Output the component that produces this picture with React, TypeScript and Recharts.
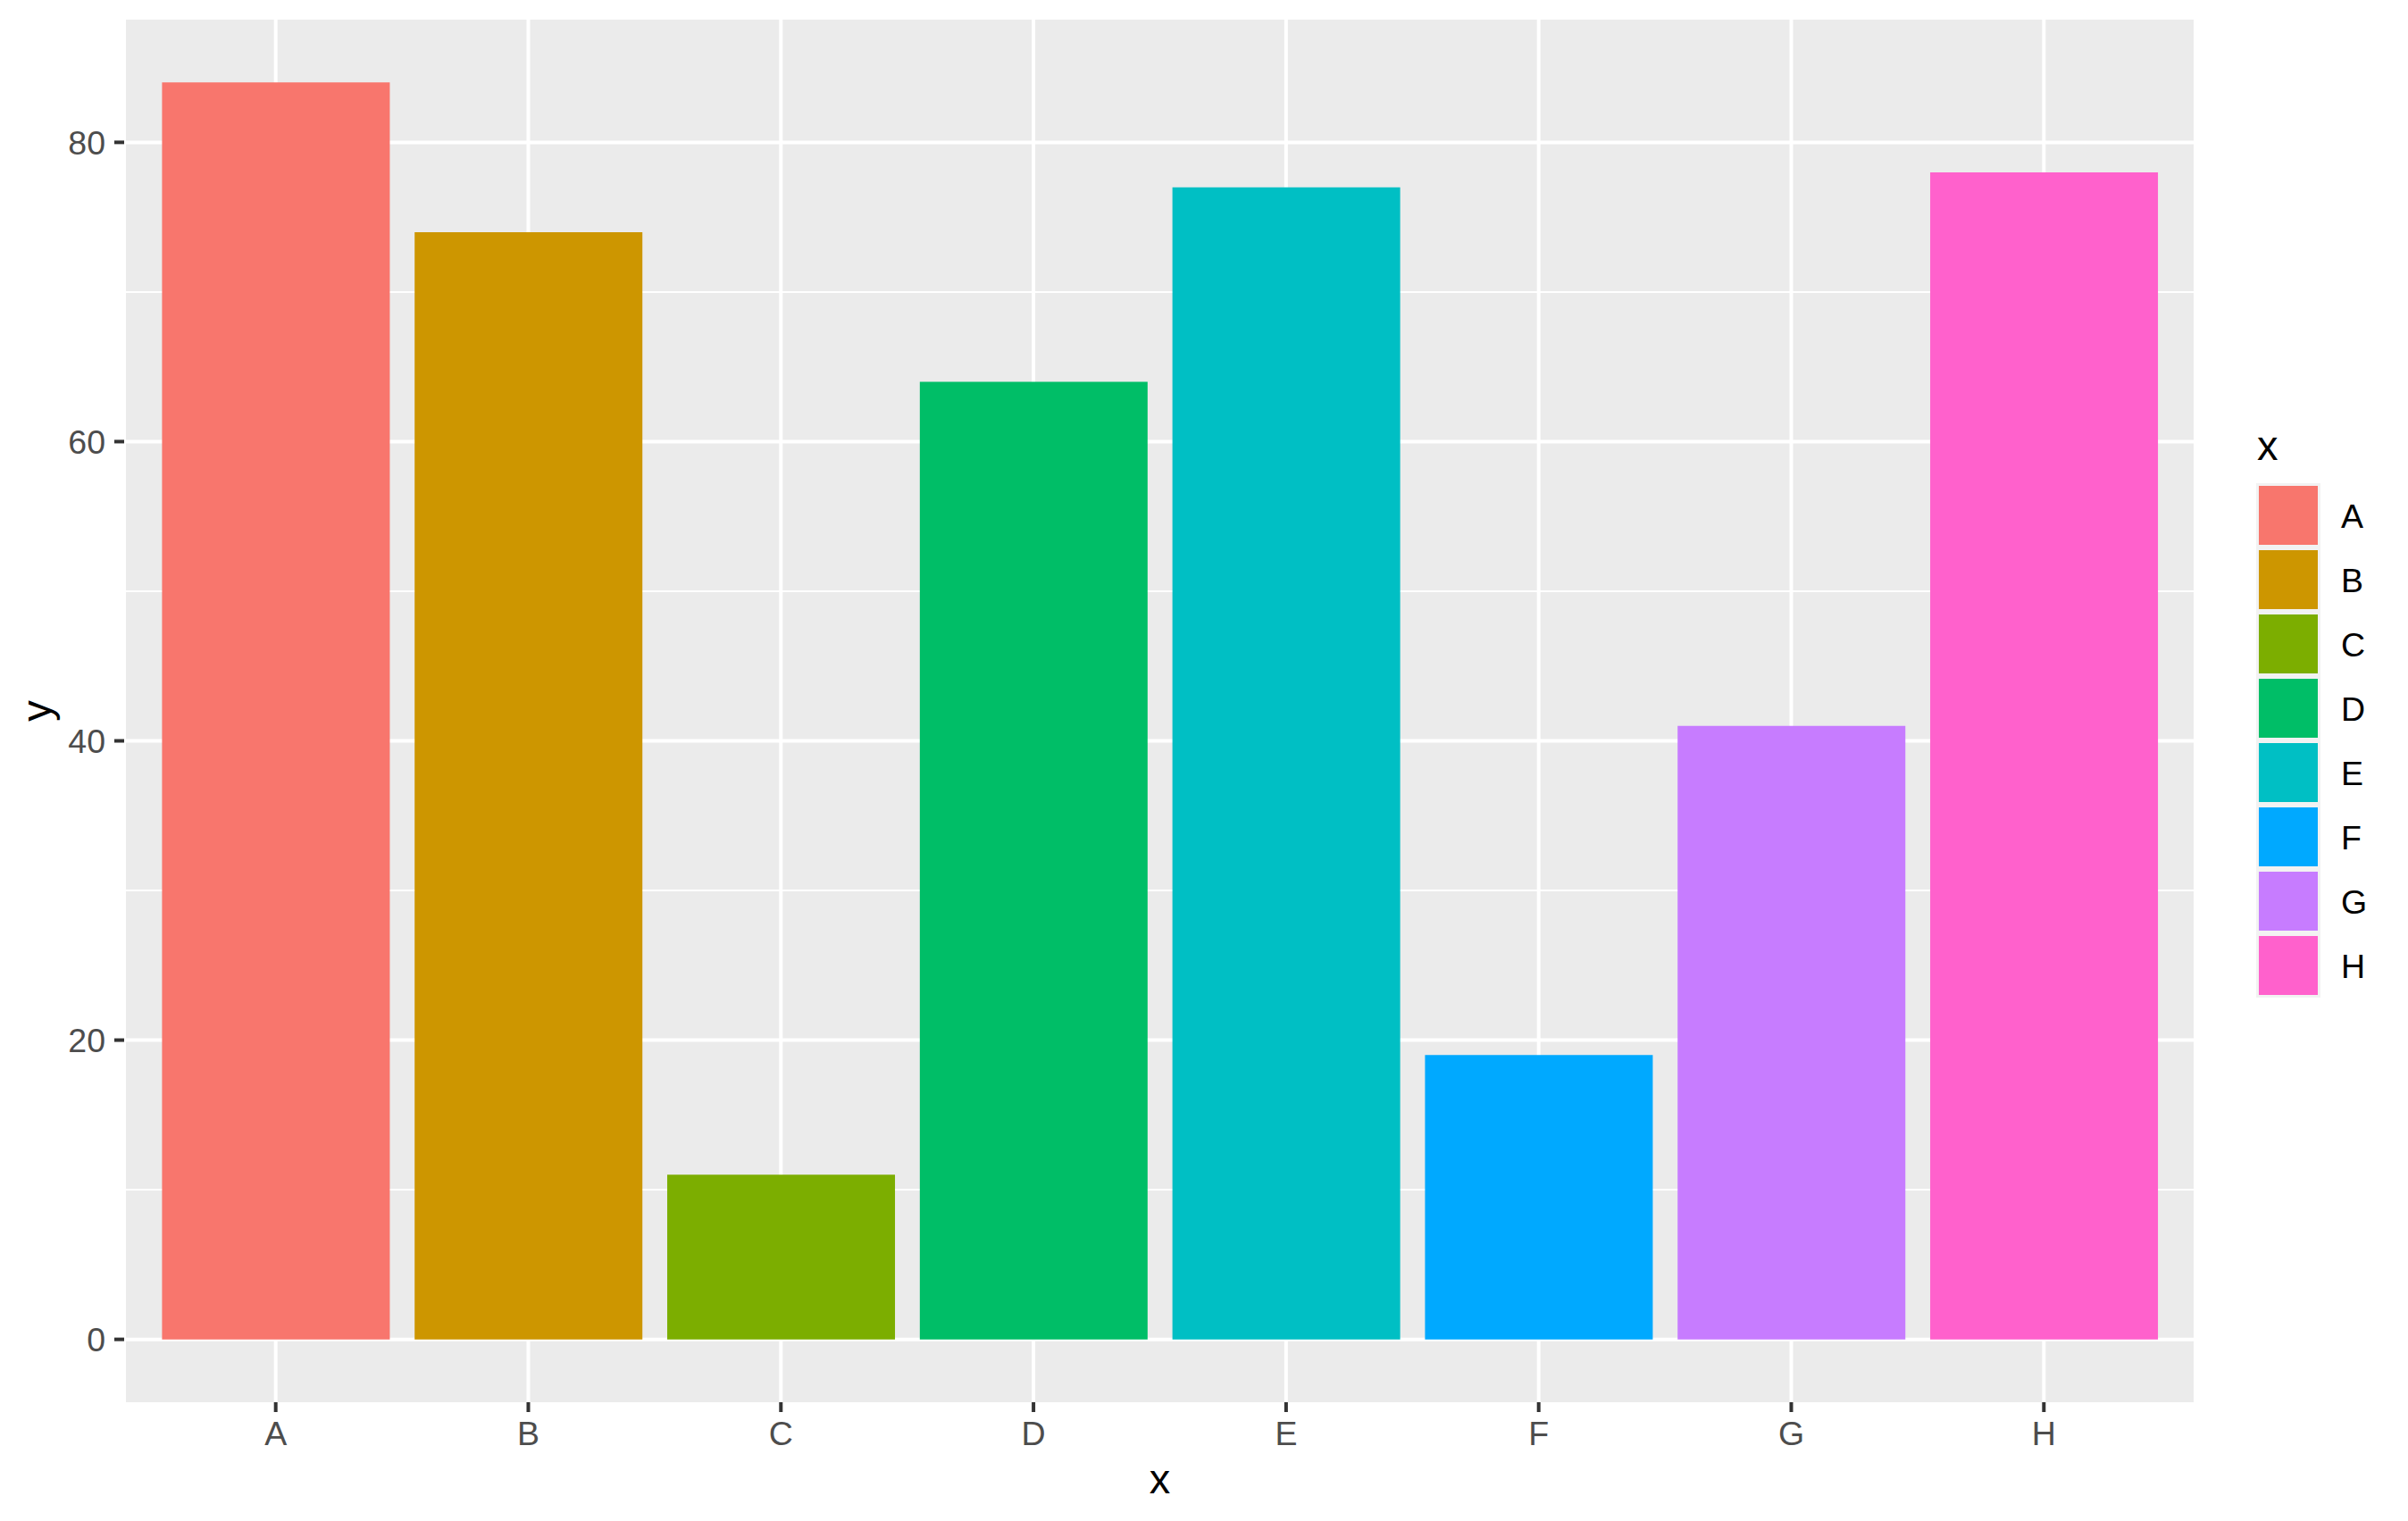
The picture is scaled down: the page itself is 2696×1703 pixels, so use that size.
import { BarChart, Bar, Cell, XAxis, YAxis, CartesianGrid, Legend } from "recharts"

const categories = ["A", "B", "C", "D", "E", "F", "G", "H"]
const values = [84, 74, 11, 64, 77, 19, 41, 78]
const colors = ["#F8766D", "#CD9600", "#7CAE00", "#00BE67", "#00BFC4", "#00A9FF", "#C77CFF", "#FF61CC"]
const yTicks = [0, 20, 40, 60, 80]
const yMinor = [10, 30, 50, 70]

const data = categories.map((c, i) => ({ x: c, y: values[i] }))

const font = "'Liberation Sans', Arial, Helvetica, sans-serif"

const XTitle = ({ viewBox }: any) => (
  <text x={viewBox.x + viewBox.width / 2} y={viewBox.y + 102} textAnchor="middle" fontSize={47} fill="#000" fontFamily={font}>
    x
  </text>
)

const YTitle = ({ viewBox }: any) => {
  const cx = viewBox.x + 57
  const cy = viewBox.y + viewBox.height / 2
  return (
    <text x={cx} y={cy} transform={`rotate(-90, ${cx}, ${cy})`} textAnchor="middle" fontSize={47} fill="#000" fontFamily={font}>
      y
    </text>
  )
}

// ggplot-style legend: title + stacked keys
const LegendBox = () => (
  <svg width={196} height={660} style={{ display: "block" }}>
    <text x={27} y={45} fontSize={47} fill="#000" fontFamily={font}>x</text>
    <rect x={26} y={71} width={72} height={576} fill="#F2F2F2" />
    {categories.map((c, i) => (
      <g key={c}>
        <rect x={29} y={71 + i * 72 + 3} width={66} height={66} fill={colors[i]} />
        <text x={121} y={71 + i * 72 + 36 + 14} fontSize={37.5} fill="#000" fontFamily={font}>{c}</text>
      </g>
    ))}
  </svg>
)

export default function App() {
  return (
    <div style={{ position: "absolute", left: 0, top: 0, background: "#fff" }}>
      <BarChart width={2696} height={1703} data={data} margin={{ top: 22, right: 238, bottom: 0, left: 0 }} barCategoryGap="5%">
        <CartesianGrid fill="#EBEBEB" fillOpacity={1} stroke="#FFFFFF" strokeWidth={4} horizontalValues={yTicks} />
        <CartesianGrid stroke="#FFFFFF" strokeWidth={2} vertical={false} horizontalValues={yMinor} />
        <XAxis
          dataKey="x"
          height={133}
          padding={{ left: 28.28, right: 28.28 }}
          axisLine={false}
          tickSize={11}
          tickMargin={10}
          tickLine={{ stroke: "#333333", strokeWidth: 4 }}
          tick={{ fill: "#4D4D4D", fontSize: 37.5, fontFamily: font }}
          label={<XTitle />}
        />
        <YAxis
          type="number"
          width={139}
          domain={[-4.2, 88.2]}
          ticks={yTicks}
          allowDataOverflow
          axisLine={false}
          tickSize={11}
          tickMargin={10}
          tickLine={{ stroke: "#333333", strokeWidth: 4 }}
          tick={{ fill: "#4D4D4D", fontSize: 37.5, fontFamily: font }}
          label={<YTitle />}
        />
        <Legend
          layout="vertical"
          align="center"
          verticalAlign="middle"
          content={<LegendBox />}
          wrapperStyle={{ left: 2500, top: 470, width: 196, height: 660 }}
        />
        <Bar dataKey="y" isAnimationActive={false}>
          {data.map((d, i) => (
            <Cell key={d.x} fill={colors[i]} />
          ))}
        </Bar>
      </BarChart>
    </div>
  )
}
